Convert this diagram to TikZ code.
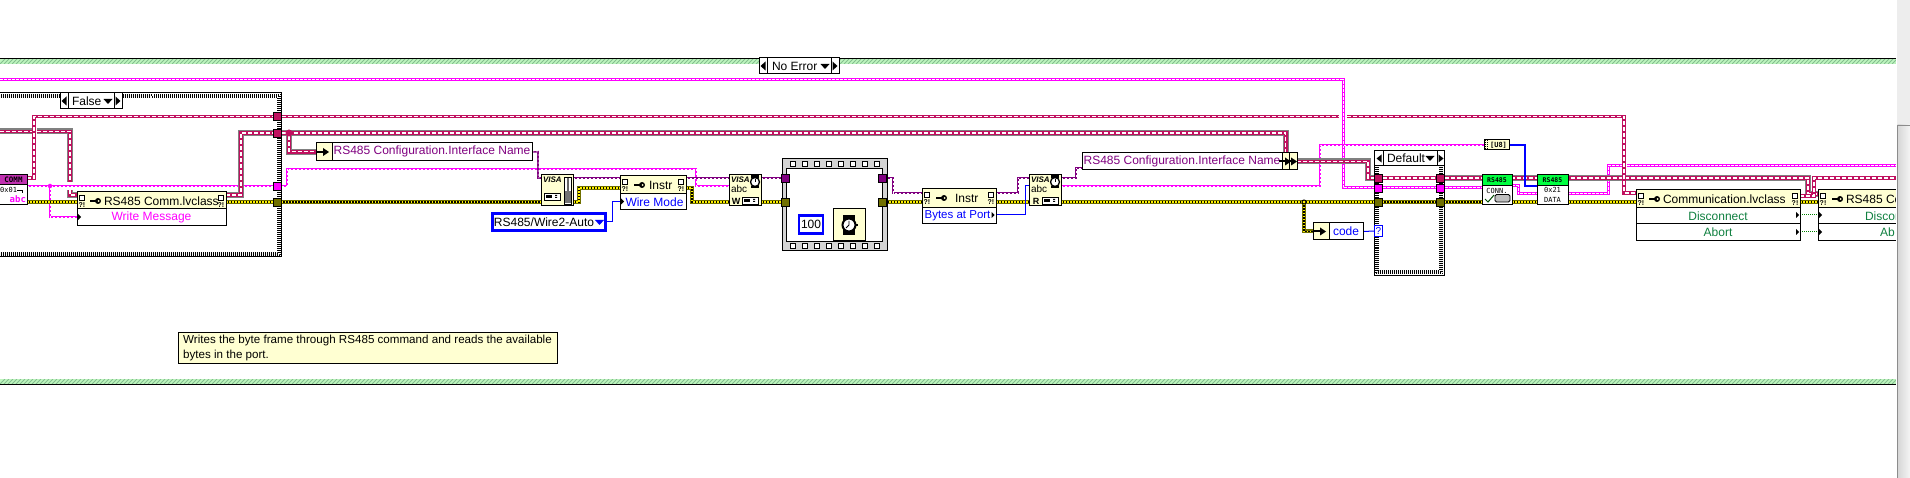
\documentclass[tikz,border=0pt]{standalone}
\usepackage{fontspec}
\setmainfont{Liberation Sans}
\newfontfamily\lvmono{DejaVu Sans Mono}
\pgfdeclarelayer{wires}
\pgfdeclarelayer{back}
\pgfsetlayers{back,wires,main}
\definecolor{cPink}{HTML}{C0105F}
\definecolor{cGray}{HTML}{808080}
\definecolor{cMag}{HTML}{FF00FF}
\definecolor{cOlive}{HTML}{707000}
\definecolor{cPur}{HTML}{800080}
\definecolor{cBlue}{HTML}{0000FF}
\definecolor{cHead}{HTML}{FFFFD2}
\definecolor{cNote}{HTML}{FFFFD2}
\definecolor{cGreenT}{HTML}{00FF40}
\definecolor{cComm}{HTML}{C030B0}
\definecolor{cTxtG}{HTML}{108040}
\definecolor{cBand}{HTML}{BEF5BE}
\definecolor{cHatch}{HTML}{84BE90}
\tikzset{
 pinkw/.style={draw=cPink,line width=3.6pt,postaction={draw=white,line width=1.2pt,dash pattern=on 4pt off 2pt}},
 graypink/.style={preaction={draw=cGray,line width=6pt},pinkw},
 strthick/.style={draw=cMag,line width=3pt,postaction={draw=white,line width=1pt,dash pattern=on 3pt off 1pt}},
 strthin/.style={draw=cMag,line width=1.8pt,postaction={draw=white,line width=.7pt,dash pattern=on 2pt off 2pt}},
 errw/.style={draw=cOlive,line width=4pt,postaction={draw=black,line width=1.6pt},postaction={draw=yellow,line width=1.6pt,dash pattern=on 1.5pt off 1.5pt}},
 purw/.style={draw=cPur,line width=1.6pt,postaction={draw=white,line width=.5pt,dash pattern=on 2pt off 2pt}},
 bluew/.style={draw=cBlue,line width=1pt},
 blueb/.style={draw=cBlue,line width=2.6pt},
 greenw/.style={draw=green!50!black,line width=1pt,dash pattern=on 1pt off 1pt},
 lv/.style={draw=black,line width=1pt,inner sep=0pt,outer sep=0pt,anchor=north west,font=\fontsize{12}{15}\selectfont},
 tun/.style={draw=black,line width=.8pt,minimum size=8pt,inner sep=0pt,outer sep=0pt},
 txt/.style={inner sep=0pt,outer sep=0pt,font=\fontsize{12}{15}\selectfont},
 tiny/.style={inner sep=0pt,outer sep=0pt,font=\fontsize{7}{8}\selectfont\bfseries},
 monot/.style={inner sep=0pt,outer sep=0pt,font=\fontsize{7}{8}\selectfont\lvmono},
}
% name, x0,y0,x1,y1, fill, options, text
\newcommand\lvbox[8]{\node[lv,fill=#6,minimum width={(#4-#2)*1pt},minimum height={(#5-#3)*1pt},#7] (#1) at (#2,#3) {#8};}
\newcommand\tunnel[4]{\node[tun,fill=#4] (#1) at (#2,#3) {};}
% method header: name x0 y0 x1 y1 keyx textx text
\newcommand\mhead[8]{%
 \lvbox{#1}{#2}{#3}{#4}{#5}{cHead}{}{}%
 \mdecor{#1-l}{#2+5}{#3}%
 \mdecor{#1-r}{#4-5}{#3}%
 \fill[black] (#6,#3+9-1.2) rectangle (#6+7,#3+9+1.2);
 \fill[black] (#6+8,#3+9) circle (3pt);
 \fill[cHead] (#6+8.5,#3+9) circle (1pt);
 \node[txt,anchor=west] (#1-t) at (#7,#3+9.5) {#8};}
\newcommand\mdecor[3]{%
 \draw[black,line width=.9pt,fill=white] (#2-2.5,#3+3) rectangle (#2+2,#3+8);
 \node[tiny,anchor=center] (#1) at (#2,#3+13) {?!};}
\newcommand\rowtri[2]{\fill[black] (#1,#2-3) -- (#1+3,#2) -- (#1,#2+3) -- cycle;}
\newcommand\unarrow[2]{%
 \draw[black,line width=2pt] (#1-6,#2) -- (#1+1,#2);
 \fill[black] (#1,#2-4) -- (#1+6,#2) -- (#1,#2+4) -- cycle;}
\newcommand\checkframe[4]{%
 \foreach \ins/\ph in {1.5/0,2.5/1,3.5/0,4.5/1}{
  \draw[black,line width=1pt,dash pattern=on 1pt off 1pt,dash phase=\ph pt]
   (#1+\ins,#2+\ins) rectangle (#3-\ins,#4-\ins);}
 \draw[black,line width=1pt] (#1,#2) rectangle (#3,#4);}
% selector: name x0 y0 x1 y1 dl dr textx text
\newcommand\selector[9]{%
 \lvbox{#1}{#2}{#3}{#4}{#5}{white}{}{}%
 \draw[black,line width=1pt] (#6,#3) -- (#6,#5) (#7,#3) -- (#7,#5);
 \fill[black] (#6-1.5,#3+3.5) -- (#6-6.5,{(#3+#5)/2}) -- (#6-1.5,#5-3.5) -- cycle;
 \fill[black] (#7+1.5,#3+3.5) -- (#7+6.5,{(#3+#5)/2}) -- (#7+1.5,#5-3.5) -- cycle;
 \node[txt,anchor=west] (#1-t) at (#8,{(#3+#5)/2}) {#9};}
\newcommand\seltri[2]{\fill[black] (#1-4.5,#2-2) -- (#1+4.5,#2-2) -- (#1,#2+3) -- cycle;}
% VISA read/write
\newcommand\visarw[3]{%
 \lvbox{#1}{#2}{175}{#2+32}{206}{cHead}{}{}%
 \node[tiny,anchor=west,font=\fontsize{8}{9}\selectfont\bfseries\itshape] (#1-v) at (#2+2,180) {VISA};
 \node[txt,anchor=west,font=\fontsize{10}{11}\selectfont] (#1-a) at (#2+2,189) {abc};
 \draw[black,line width=1.3pt,fill=white] (#2+26,182) circle (4.5pt);
 \fill[black] (#2+22,175.5) rectangle (#2+30,178);
 \fill[black] (#2+22,186) rectangle (#2+30,188);
 \draw[black,line width=.8pt] (#2+26,182) -- (#2+26,179.5);
 \node[tiny,anchor=center,font=\fontsize{9}{10}\selectfont\bfseries] (#1-l) at (#2+7,201) {#3};
 \draw[black,line width=.9pt,fill=white] (#2+13,197) rectangle (#2+29,204);
 \fill[black] (#2+15,199) rectangle (#2+21,202);
 \fill[black] (#2+24,199) rectangle (#2+26,200) (#2+24,201) rectangle (#2+26,202);}
\begin{document}
\begin{tikzpicture}[x=1pt,y=-1pt]
\useasboundingbox (0,0) rectangle (1910,478);
% ---------- nodes ----------
\tunnel{tA}{277.5}{116.5}{cPink}
\tunnel{tB}{277.5}{133}{cPink}
\tunnel{tC}{277.5}{186}{cMag}
\tunnel{tD}{277.5}{202}{cOlive}
% COMM partial
\lvbox{commB}{-5}{185}{27}{205}{white}{}{}
\lvbox{commT}{-5}{175}{27}{185}{cComm}{font=\fontsize{7.5}{8}\selectfont\bfseries\lvmono}{\hspace*{5pt}COMM}
\node[monot,anchor=east] (commX) at (17,190) {0x01};
\node[tiny,anchor=east,text=cMag,font=\fontsize{9}{10}\selectfont\bfseries\lvmono] (commA) at (26,199) {abc};
\draw[black,line width=.7pt] (17,190) -- (22,190) -- (22,193);
% selector False
\selector{selF}{60}{93}{122}{109}{68}{114}{72}{False}
\seltri{108}{101}
% RS485 Comm
\mhead{cH}{77}{192}{226}{209}{90}{104}{RS485 Comm.lvclass}
\lvbox{cR}{77}{209}{226}{226}{white}{text=cMag}{Write Message}
\rowtri{78}{217}
% Config 1
\lvbox{cfgAh}{316}{143}{332}{160.7}{cHead}{}{}
\unarrow{323}{152}
\lvbox{cfgA}{332}{143}{532}{160.7}{white}{text=cPur}{RS485 Configuration.Interface Name}
% VISA property
\lvbox{visaP}{541}{175}{573}{206}{cHead}{}{}
\node[tiny,anchor=west,font=\fontsize{8}{9}\selectfont\bfseries\itshape] (visaP-v) at (543,180) {VISA};
\draw[black,line width=.9pt,fill=white] (544,193) rectangle (560,200);
\fill[black] (546,195) rectangle (552,198);
\fill[black] (555,195) rectangle (557,196) (555,197) rectangle (557,198);
\draw[black,line width=.9pt,fill=white] (564,177) rectangle (571,204);
\fill[black!60] (566.5,178) rectangle (568.5,191);
\fill[black!55] (565,191) rectangle (570.5,203.5);
% Instr 1
\mhead{iH}{620}{176}{686}{194}{634}{649}{Instr}
\lvbox{iR}{620}{194}{686}{210}{white}{text=cBlue}{\hspace*{3pt}Wire Mode}
\rowtri{621}{201.5}
% enum
\node[lv,draw=cBlue,line width=2.6pt,fill=white,minimum width=113pt,minimum height=17pt] (enum) at (492.5,213.5) {\hspace*{-10pt}RS485/Wire2-Auto};
\fill[cBlue] (595,220) -- (604,220) -- (599.5,225) -- cycle;
% VISA W
\visarw{visaW}{729}{W}
% flat sequence
\lvbox{seqOut}{782}{159}{887}{251}{black!17}{}{}
\foreach \sx in {793,805,817,829,841,853,865,877}{
 \draw[black,line width=.9pt,fill=white] (\sx-2.5,161.5) rectangle (\sx+2.5,166.5);
 \draw[black,line width=.9pt,fill=white] (\sx-2.5,243.5) rectangle (\sx+2.5,248.5);}
\lvbox{seqIn}{786}{169}{882}{242}{white}{}{}
\tunnel{sL1}{785.7}{178}{cPur}
\tunnel{sL2}{785.7}{202}{cOlive}
\tunnel{sR1}{882.3}{178}{cPur}
\tunnel{sR2}{882.3}{202}{cOlive}
\node[lv,draw=cBlue,line width=2.6pt,fill=white,minimum width=24pt,minimum height=18pt] (num) at (799,215.5) {100};
\lvbox{watch}{833}{209}{865}{241}{cHead}{}{}
\fill[black] (843,215) rectangle (855,235);
\draw[black,line width=2pt,fill=white] (849,225) circle (6.5pt);
\draw[black,line width=.8pt] (849,221) -- (849,225) -- (846,228);
\fill[black] (856,224) rectangle (857.5,226);
% Instr 2
\mhead{jH}{922}{189}{996}{208}{936}{955}{Instr}
\lvbox{jR}{922}{208}{996}{224}{white}{text=cBlue,font=\fontsize{11.5}{15}\selectfont}{\hspace*{-3pt}Bytes at Port}
\rowtri{991.5}{215}
% VISA R
\visarw{visaR}{1029}{R}
% Config 2
\lvbox{cfgB}{1082}{153}{1282}{170}{white}{text=cPur}{RS485 Configuration.Interface Name}
\lvbox{cfgBa}{1282}{153}{1289.5}{170}{cHead}{}{}
\lvbox{cfgBb}{1289.5}{153}{1297}{170}{cHead}{}{}
\unarrow{1285}{161.5}
\unarrow{1291}{161.5}
% code
\lvbox{codeH}{1313}{223}{1329}{240}{cHead}{}{}
\unarrow{1320}{231.5}
\lvbox{codeB}{1329}{223}{1363}{240}{white}{text=cBlue}{code}
% case Default
\selector{selD}{1374}{151}{1444}{166}{1383}{1437}{1387}{Default}
\seltri{1430}{158}
\tunnel{cL1}{1378.5}{178}{cPink}
\tunnel{cL2}{1378.5}{188}{cMag}
\tunnel{cL3}{1378.5}{202}{cOlive}
\tunnel{cR1}{1440.5}{178}{cPink}
\tunnel{cR2}{1440.5}{188}{cMag}
\tunnel{cR3}{1440.5}{202}{cOlive}
\node[lv,draw=cBlue,fill=white,text=cBlue,minimum width=8pt,minimum height=11pt,font=\fontsize{10}{11}\selectfont] (caseQ) at (1374.5,225.5) {?};
% U8
\lvbox{u8}{1484}{140}{1509}{150}{cHead}{font=\fontsize{7}{7}\selectfont\bfseries\lvmono}{\hspace*{4pt}[U8]}
\foreach \ux in {1485,1487}{\draw[black,line width=1pt,dash pattern=on 1pt off 1pt] (\ux.5,140.5) -- (\ux.5,150);}
% CONN / DATA
\lvbox{connB}{1482}{186}{1512}{205}{white}{}{}
\lvbox{connT}{1482}{175}{1512}{186}{cGreenT}{font=\fontsize{6.5}{7}\selectfont\bfseries\lvmono}{RS485}
\node[monot,anchor=center] (connL) at (1497,190.5) {CONN.};
\draw[black!70!green,line width=1pt] (1485,199) -- (1488,202) -- (1494,195);
\draw[black,line width=.9pt,fill=black!25,rounded corners=1.5pt] (1495,194.5) rectangle (1510,202);
\lvbox{dataB}{1537}{186}{1568}{205}{white}{}{}
\lvbox{dataT}{1537}{175}{1568}{186}{cGreenT}{font=\fontsize{6.5}{7}\selectfont\bfseries\lvmono}{RS485}
\node[monot,anchor=center] (dataH) at (1552.5,190) {0x21};
\node[monot,anchor=center] (dataD) at (1552.5,199.5) {DATA};
% Communication
\mhead{mH}{1636}{190}{1800}{208}{1649}{1663}{Communication.lvclass}
\lvbox{mA}{1636}{208}{1800}{224}{white}{text=cTxtG}{Disconnect}
\lvbox{mB}{1636}{224}{1800}{241}{white}{text=cTxtG}{Abort}
\rowtri{1796}{215}
\rowtri{1796}{232}
% RS485 Comm (cut by window edge)
\lvbox{rH}{1818}{190}{1905}{208}{cHead}{}{}
\mdecor{rH-l}{1823}{190}
\fill[black] (1832,197.8) rectangle (1839,200.2);
\fill[black] (1840,199) circle (3pt);
\fill[cHead] (1840.5,199) circle (1pt);
\node[txt,anchor=west] (rH-t) at (1846,199.5) {RS485 Co};
\lvbox{rA}{1818}{208}{1905}{224}{white}{}{}
\lvbox{rB}{1818}{224}{1905}{241}{white}{}{}
\node[txt,anchor=west,text=cTxtG] (rA-t) at (1865,216) {Discon};
\node[txt,anchor=west,text=cTxtG] (rB-t) at (1880,232.5) {Ab};
\rowtri{1819}{215}
\rowtri{1819}{232}
% comment
\node[lv,fill=cNote,inner xsep=2pt,minimum width=379pt,minimum height=31pt,align=left,font=\fontsize{11.6}{15}\selectfont] (note) at (178,332) {Writes the byte frame through RS485 command and reads the available\\bytes in the port.};
% No Error selector
\selector{selN}{759}{58}{839}{74}{767}{831}{772}{No Error}
\seltri{825}{66}
% junctions
\node[circle,fill=cPink,minimum size=7pt,inner sep=0pt,outer sep=0pt] (jPink) at (289,133) {};
\node[circle,fill=cMag,minimum size=4.5pt,inner sep=0pt,outer sep=0pt] (jMag) at (50,186) {};
\node[circle,draw=black,line width=1pt,fill=yellow,minimum size=4pt,inner sep=0pt,outer sep=0pt] (jErr) at (1304,202) {};
% free ends
\coordinate (fA) at (0,80);
\coordinate (fB) at (0,131.5);
\coordinate (g1) at (32,131.5);
\coordinate (g2) at (37,131.5);
\coordinate (g3) at (70,182.5);
\coordinate (g4) at (70,190);
\coordinate (g5) at (1339,116.5);
\coordinate (g6) at (1347,116.5);
\coordinate (g7) at (1622,166);
\coordinate (g8) at (1627,166);
\coordinate (fC) at (1905,166);
\coordinate (fD) at (1905,178);
% ---------- wires ----------
\begin{pgfonlayer}{wires}
\draw[strthick] (fA) -- (1343,80) -- (1343,188) -- (cL2.west);
\draw[strthick] (cL2.east) -- (cR2.west);
\draw[strthick] (cR2.east) -- (connB.west |- 0,188);
\draw[strthick] (connB.east |- 0,186) -- (1518,186) -- (1518,194) -- (dataB.west |- 0,194);
\draw[strthick] (dataB.east |- 0,194) -- (1608,194) -- (1608,166) -- (g7);
\draw[strthick] (g8) -- (fC);
\draw[strthin] (commB.east |- 0,186) -- (tC.west);
\draw[strthin] (jMag) |- (cR.west |- 0,217);
\draw[strthin] (tC.east) -- (287,186) -- (287,169) -- (696,169) -- (696,186) -- (visaW.west |- 0,186);
\draw[strthin] (visaR.east |- 0,186) -- (1320,186) -- (1320,145) -- (u8.west);
% class wires
\draw[pinkw] (commT.east |- 0,178) -- (34,178) -- (34,116.5) -- (tA.west);
\draw[pinkw] (tA.east) -- (g5);
\draw[graypink] (fB) -- (g1);
\draw[graypink] (g2) -- (70,131.5) -- (g3);
\draw[graypink] (g4) -- (70,195) -- (cH.west |- 0,195);
\draw[graypink] (cH.east |- 0,195) -- (241,195) -- (241,133) -- (tB.west);
\draw[graypink] (tB.east) -| (cfgBa.north);
\draw[graypink] (jPink) |- (cfgAh.west);
\draw[graypink] (cfgBb.east) -- (1368,161.5) -- (1368,178) -- (cL1.west);
\draw[pinkw] (cL1.east) -- (cR1.west);
\draw[graypink] (cR1.east) -- (1808,178) -- (1808,194) -- (rH.west |- 0,194);
\draw[pinkw] (g6) -- (1624,116.5) -- (1624,193) -- (mH.west |- 0,193);
\draw[pinkw] (mH.east |- 0,196) -- (1814,196) -- (1814,178) -- (fD);
% VISA refnum
\draw[purw] (cfgA.east) -- (538,151.8) -- (538,178) -- (visaP.west |- 0,178);
\draw[purw] (visaP.east |- 0,178) -- (iH.west |- 0,178);
\draw[purw] (iH.east |- 0,178) -- (visaW.west |- 0,178);
\draw[purw] (visaW.east |- 0,178) -- (sL1.west);
\draw[purw] (sL1.east) -- (sR1.west);
\draw[purw] (sR1.east) -- (893,178) -- (893,193) -- (jH.west |- 0,193);
\draw[purw] (jH.east |- 0,193) -- (1018,193) -- (1018,178) -- (visaR.west |- 0,178);
\draw[purw] (visaR.east |- 0,178) -- (1076,178) -- (1076,168) -- (cfgB.west |- 0,168);
% errors
\draw[errw] (commB.east |- 0,202) -- (cH.west |- 0,202);
\draw[errw] (cR.east |- 0,202) -- (tD.west);
\draw[errw] (tD.east) -- (visaP.west |- 0,202);
\draw[errw] (visaP.east |- 0,202) -- (579,202) -- (579,188) -- (iH.west |- 0,188);
\draw[errw] (iH.east |- 0,188) -- (692,188) -- (692,202) -- (visaW.west |- 0,202);
\draw[errw] (visaW.east |- 0,202) -- (sL2.west);
\draw[errw] (sL2.east) -- (sR2.west);
\draw[errw] (sR2.east) -- (jH.west |- 0,202);
\draw[errw] (jH.east |- 0,202) -- (visaR.west |- 0,202);
\draw[errw] (visaR.east |- 0,202) -- (cL3.west);
\draw[errw] (jErr) |- (codeH.west);
\draw[errw] (cL3.east) -- (cR3.west);
\draw[errw] (cR3.east) -- (connB.west |- 0,202);
\draw[errw] (connB.east |- 0,202) -- (dataB.west |- 0,202);
\draw[errw] (dataB.east |- 0,202) -- (mH.west |- 0,202);
\draw[errw] (mH.east |- 0,202) -- (rH.west |- 0,202);
% blue
\draw[bluew] (enum.east) -- (612,222) -- (612,201.5) -- (iR.west |- 0,201.5);
\draw[bluew] (jR.east |- 0,215) -- (1025,215) -- (1025,186) -- (visaR.west |- 0,186);
\draw[bluew] (num.east) -- (watch.west |- num.east);
\draw[bluew] (codeB.east) -- (caseQ.west);
\draw[blueb] (u8.east) -- (1525,145) -- (1525,186) -- (dataB.west |- 0,186);
% green dotted
\draw[greenw] (mA.east |- 0,215) -- (rA.west |- 0,215);
\draw[greenw] (mB.east |- 0,232) -- (rB.west |- 0,232);
\end{pgfonlayer}
% ---------- structures and background ----------
\begin{pgfonlayer}{back}
\fill[white] (0,0) rectangle (1910,478);
\checkframe{-10}{93}{281.5}{257}
\checkframe{1374}{160}{1444}{275}
% green bands
\begin{scope}
\clip (0,59) rectangle (1896,64);
\fill[cBand] (0,59) rectangle (1896,64);
\foreach \hx in {0,4,...,1900}{\draw[cHatch,line width=1pt] (\hx,64) -- (\hx+5,59);}
\end{scope}
\draw[black,line width=1pt] (0,58.5) -- (1896,58.5);
\begin{scope}
\clip (0,379) rectangle (1896,384);
\fill[cBand] (0,379) rectangle (1896,384);
\foreach \hx in {0,4,...,1900}{\draw[cHatch,line width=1pt] (\hx,384) -- (\hx+5,379);}
\end{scope}
\draw[black,line width=1pt] (0,384.5) -- (1896,384.5);
\end{pgfonlayer}
% scrollbar
\fill[black!7] (1896.5,0) rectangle (1910,478);
\fill[white] (1896,0) rectangle (1897,478);
\shade[left color=black!16,right color=black!4] (1897.5,125) rectangle (1910,478);
\draw[black!45,line width=1pt] (1897.5,478) -- (1897.5,125.5) -- (1910,125.5);
\end{tikzpicture}
\end{document}
